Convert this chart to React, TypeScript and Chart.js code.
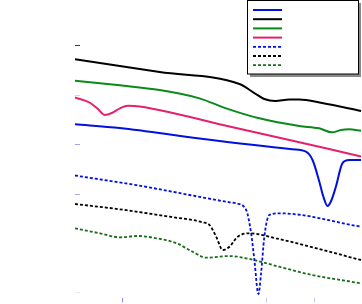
import { useEffect, useRef } from "react";
import { Chart, registerables } from "chart.js";
Chart.register(...registerables);

const seriesLabels = ["Sample A", "Sample B", "Sample C", "Sample D", "Sample E", "Sample F", "Sample G"];

const blueSolidX = [0, 46.9, 130.2, 227.1, 241.4, 248.3, 255.2, 259.4, 264.0, 267.7, 272.6, 279.5, 286.5, 299.0];
const blueSolidY = [3.408, 3.333, 3.121, 2.903, 2.855, 2.687, 2.263, 1.96, 1.758, 1.859, 2.141, 2.62, 2.687, 2.687];

const blackSolidX = [0, 88.5, 171.9, 187.5, 197.9, 209.4, 224.0, 234.4, 258.3, 299.0];
const blackSolidY = [4.721, 4.463, 4.222, 4.04, 3.919, 3.879, 3.909, 3.909, 3.838, 3.677];

const greenSolidX = [0, 46.9, 88.5, 130.2, 158.0, 192.7, 234.4, 255.2, 268.8, 278.1, 286.5, 299.0];
const greenSolidY = [4.289, 4.196, 4.101, 3.933, 3.731, 3.529, 3.374, 3.327, 3.246, 3.293, 3.307, 3.279];

const redSolidX = [0, 15.6, 24.0, 31.3, 38.5, 46.9, 55.2, 67.7, 161.5, 262.2, 299.0];
const redSolidY = [3.949, 3.844, 3.717, 3.596, 3.636, 3.731, 3.784, 3.768, 3.364, 2.923, 2.758];

const blueDotX = [0, 64.6, 161.5, 168.5, 178.9, 184.1, 187.5, 191.7, 194.5, 197.9, 203.1, 213.5, 299.0];
const blueDotY = [2.374, 2.178, 1.833, 1.812, 1.677, 1.206, 0.667, -0.02, 0.398, 1.137, 1.576, 1.61, 1.339];

const blackDotX = [0, 46.9, 99.0, 133.6, 140.6, 147.6, 154.5, 161.5, 170.1, 182.3, 210.1, 299.0];
const blackDotY = [1.798, 1.691, 1.541, 1.428, 1.374, 1.137, 0.869, 0.935, 1.137, 1.206, 1.105, 0.667];

const greenDotX = [0, 26.0, 46.9, 64.6, 85.4, 106.3, 122.9, 137.5, 161.5, 178.9, 213.5, 247.9, 299.0];
const greenDotY = [1.307, 1.206, 1.125, 1.152, 1.105, 1.004, 0.834, 0.713, 0.747, 0.701, 0.531, 0.364, 0.196];

const xTickColors: Record<number, string> = { 50: "#8c8cf0", 200: "#c8c8f4", 250: "#c8c8f4" };
const yTickColors: Record<number, string> = { 0: "#e6e6f4", 2: "#a8a8ec", 3: "#a4a4e8", 4: "#d4d4e8", 5: "#2a2ad8" };

const toPts = (xs: number[], ys: number[]) => xs.map((x, i) => ({ x, y: ys[i] }));

const legendBoxPlugin = {
  id: "legendBox",
  afterDraw(chart: any) {
    const ctx = chart.ctx as CanvasRenderingContext2D;
    ctx.save();
    ctx.fillStyle = "#8a8a8a";
    ctx.fillRect(250, 3, 111, 74);
    ctx.fillStyle = "#ffffff";
    ctx.fillRect(247.5, 0.5, 111, 73.5);
    ctx.strokeStyle = "#000000";
    ctx.lineWidth = 1;
    ctx.strokeRect(247.5, 0.5, 111, 73.5);
    chart.data.datasets.forEach((ds: any, i: number) => {
      const y = 10 + i * 9.2;
      ctx.beginPath();
      ctx.strokeStyle = ds.borderColor;
      ctx.lineWidth = ds.borderWidth;
      ctx.setLineDash(ds.borderDash || []);
      ctx.moveTo(253, y);
      ctx.lineTo(282, y);
      ctx.stroke();
      ctx.setLineDash([]);
      ctx.fillStyle = "#ffffff";
      ctx.font = "8px 'DejaVu Sans'";
      ctx.textBaseline = "middle";
      ctx.fillText(ds.label, 287, y);
    });
    ctx.restore();
  },
};

export default function App() {
  const ref = useRef<HTMLCanvasElement | null>(null);
  useEffect(() => {
    if (!ref.current) return;
    const mk = (label: string, xs: number[], ys: number[], color: string, dash?: number[]) => ({
      label,
      data: toPts(xs, ys),
      borderColor: color,
      backgroundColor: color,
      borderWidth: dash ? 1.8 : 2,
      borderDash: dash,
      pointRadius: 0,
      fill: false,
      cubicInterpolationMode: "monotone" as const,
    });
    const chart = new Chart(ref.current, {
      type: "line",
      data: {
        datasets: [
          mk(seriesLabels[0], blueSolidX, blueSolidY, "#0010e0"),
          mk(seriesLabels[1], blackSolidX, blackSolidY, "#000000"),
          mk(seriesLabels[2], greenSolidX, greenSolidY, "#0a8a1a"),
          mk(seriesLabels[3], redSolidX, redSolidY, "#e6206c"),
          mk(seriesLabels[4], blueDotX, blueDotY, "#0010e0", [3, 2]),
          mk(seriesLabels[5], blackDotX, blackDotY, "#000000", [3, 2]),
          mk(seriesLabels[6], greenDotX, greenDotY, "#1a6e1a", [3, 2]),
        ],
      },
      options: {
        animation: false,
        responsive: false,
        layout: { padding: { left: 75, right: 0, top: 0, bottom: 1.5 } },
        plugins: { legend: { display: false }, tooltip: { enabled: false } },
        scales: {
          x: {
            type: "linear",
            min: 0,
            max: 300,
            border: { display: false },
            grid: {
              drawOnChartArea: false,
              drawTicks: true,
              tickLength: 5,
              tickColor: (c: any) => xTickColors[c.tick?.value] || "rgba(0,0,0,0)",
            },
            ticks: { display: false, stepSize: 50, includeBounds: false },
          },
          y: {
            type: "linear",
            min: -0.091,
            max: 5.92,
            border: { display: false },
            afterFit: (scale: any) => {
              scale.width = 0;
            },
            grid: {
              drawOnChartArea: false,
              drawTicks: true,
              tickLength: -5,
              tickColor: (c: any) => yTickColors[c.tick?.value] || "rgba(0,0,0,0)",
            },
            ticks: { display: false, stepSize: 1, includeBounds: false },
          },
        },
      },
      plugins: [legendBoxPlugin],
    });
    return () => chart.destroy();
  }, []);
  return (
    <div style={{ position: "fixed", left: 0, top: 0, width: 362, height: 304, background: "#fff" }}>
      <canvas ref={ref} width={362} height={304} />
    </div>
  );
}
